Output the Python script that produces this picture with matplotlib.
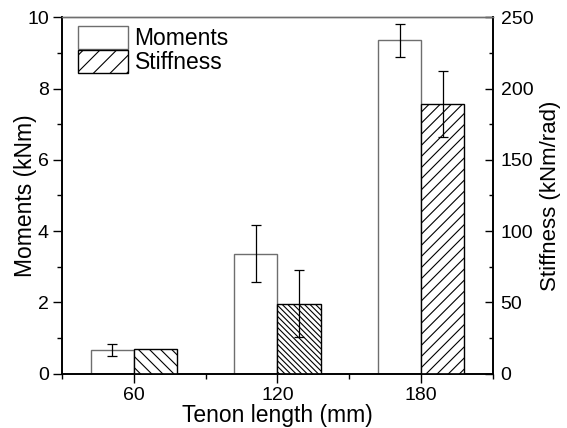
import matplotlib
matplotlib.use("Agg")
import matplotlib.pyplot as plt
from matplotlib.patches import Patch
from matplotlib.ticker import MultipleLocator

plt.rcParams['font.family'] = ['Liberation Sans', 'DejaVu Sans']
plt.rcParams['hatch.linewidth'] = 0.8

tenon_length = [60, 120, 180]
moments = [0.67, 3.36, 9.36]
moments_err = [0.165, 0.80, 0.465]
stiffness = [17.0, 49.1, 189.4]
stiffness_err = [0.0, 23.5, 23.2]
stiff_hatches = ['\\\\\\', '\\\\\\\\\\\\', '///']

fig = plt.figure(figsize=(5.67, 4.28), dpi=100)
ax = fig.add_axes([0.1093, 0.1269, 0.7602, 0.8327])
ax2 = ax.twinx()

w = 18
for x, m, me in zip(tenon_length, moments, moments_err):
    ax.bar(x - w / 2, m, width=w, facecolor='white', edgecolor='#6e6e6e', linewidth=1.0, zorder=2)
    ax.errorbar(x - w / 2, m, yerr=me, fmt='none', ecolor='black', elinewidth=0.9, capsize=3.3, capthick=0.9, zorder=3)
for x, s, se, h in zip(tenon_length, stiffness, stiffness_err, stiff_hatches):
    ax2.bar(x + w / 2, s, width=w, facecolor='white', edgecolor='black', linewidth=1.0, hatch=h, zorder=2)
    if se > 0:
        ax2.errorbar(x + w / 2, s, yerr=se, fmt='none', ecolor='black', elinewidth=0.9, capsize=3.3, capthick=0.9, zorder=3)

ax.set_xlim(30, 210)
ax.set_ylim(0, 10)
ax2.set_ylim(0, 250)
ax.set_xticks(tenon_length)
ax.xaxis.set_minor_locator(MultipleLocator(30))
ax.yaxis.set_major_locator(MultipleLocator(2))
ax.yaxis.set_minor_locator(MultipleLocator(1))
ax2.yaxis.set_major_locator(MultipleLocator(50))
ax2.yaxis.set_minor_locator(MultipleLocator(25))

for a in (ax, ax2):
    for s in ('left', 'right', 'bottom'):
        a.spines[s].set_linewidth(1.2)
        a.spines[s].set_color('black')
    a.spines['top'].set_color('#6e6e6e')
    a.spines['top'].set_linewidth(1.0)

ax.tick_params(which='major', direction='out', length=6.5, width=1, labelsize=14, color='black', pad=3)
ax.tick_params(which='minor', direction='out', length=3.5, width=1, color='black')
ax.tick_params(axis='x', which='both', top=False)
ax2.tick_params(axis='y', which='major', direction='in', length=6, width=1, labelsize=14, color='black', pad=5.5)
ax2.tick_params(axis='y', which='minor', direction='in', length=3, width=1, color='black')

ax.set_xlabel('Tenon length (mm)', fontsize=16.5, labelpad=0)
ax.set_ylabel('Moments (kNm)', fontsize=16.5)
ax2.set_ylabel('Stiffness (kNm/rad)', fontsize=16)
ax.yaxis.set_label_coords(-0.058, 0.5)
ax2.yaxis.set_label_coords(1.109, 0.5)

handles = [Patch(facecolor='white', edgecolor='#6e6e6e', linewidth=1.0),
           Patch(facecolor='white', edgecolor='black', linewidth=1.0, hatch='//')]
leg = ax2.legend(handles, ['Moments', 'Stiffness'], loc='upper left', frameon=False,
                 fontsize=16.5, handlelength=2.17, handleheight=1.15, labelspacing=0.0,
                 handletextpad=0.3, borderaxespad=0.0, borderpad=0.0,
                 bbox_to_anchor=(0.037, 0.975))

fig.savefig('out.png', dpi=100)
